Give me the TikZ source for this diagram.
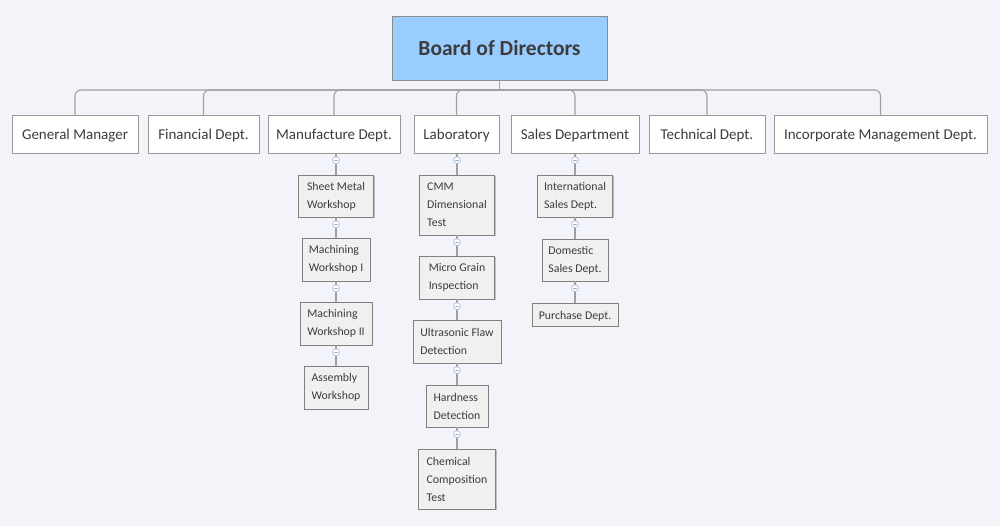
\documentclass[tikz,border=0pt]{standalone}
\usepackage{fontspec}
\setmainfont{Carlito}
\usetikzlibrary{shadows}
\definecolor{bgc}{RGB}{243,244,249}
\definecolor{txt}{RGB}{60,60,60}
\definecolor{linec}{RGB}{160,160,160}
\definecolor{boardc}{RGB}{153,204,255}
\definecolor{childc}{RGB}{240,240,240}
\definecolor{togc}{RGB}{150,175,220}
\tikzset{
  conn/.style={draw=linec, line width=1.1pt},
  board/.style={draw=black!45, fill=boardc, text=txt, font=\fontsize{21.5}{24}\selectfont\bfseries, minimum width=215pt, minimum height=64pt, inner sep=0pt, text height=17pt, text depth=2pt},
  dept/.style={draw=black!40, fill=white, text=txt, font=\fontsize{15}{18}\selectfont, minimum height=38pt, inner sep=0pt, text height=12.5pt, text depth=2.3pt,
    drop shadow={shadow xshift=1pt, shadow yshift=-1pt, fill=black!20, opacity=1}},
  sub/.style={draw=black!50, fill=childc, text=txt, font=\fontsize{11.8}{18}\selectfont, align=left, inner xsep=5pt, inner ysep=0pt,
    execute at begin node={\rule{0pt}{12.5pt}},
    drop shadow={shadow xshift=1pt, shadow yshift=-1pt, fill=black!25, opacity=1}},
  tog/.style={circle, draw=togc, fill=white, line width=0.5pt, minimum size=7pt, inner sep=0pt,
    path picture={\draw[togc, line width=0.6pt] ([xshift=-2pt]path picture bounding box.center) -- ([xshift=2pt]path picture bounding box.center);}}
}
\begin{document}
\begin{tikzpicture}[x=1pt, y=-1pt]
\fill[bgc] (0,0) rectangle (1000,526);
\useasboundingbox (0,0) rectangle (1000,526);

\node[board] (bd) at (499.5,48) {Board of Directors};
\coordinate (hub) at (499.5,90);

\node[dept, minimum width=126pt] (gm)  at (75,134)    {General Manager};
\node[dept, minimum width=111pt] (fin) at (203.5,134) {Financial Dept.};
\node[dept, minimum width=132pt] (man) at (334,134)   {Manufacture Dept.};
\node[dept, minimum width=85pt]  (lab) at (456.5,134) {Laboratory};
\node[dept, minimum width=128pt] (sal) at (575,134)   {Sales Department};
\node[dept, minimum width=116pt] (tec) at (707,134)   {Technical Dept.};
\node[dept, minimum width=213pt] (inc) at (880.5,134) {Incorporate Management Dept.};

\draw[conn] (bd.south) -- (hub);
\foreach \n in {gm,fin,man,lab,sal,tec,inc}
  \draw[conn, rounded corners=6pt] (\n.north) |- (hub);

% Manufacture
\node[sub, minimum width=75pt, minimum height=42pt] (sm) at (336,196)   {Sheet Metal\\Workshop};
\node[sub, minimum width=68pt, minimum height=43pt] (m1) at (336,259.5) {Machining\\Workshop I};
\node[sub, minimum width=72pt, minimum height=43pt] (m2) at (336,323.5) {Machining\\Workshop II};
\node[sub, minimum width=64pt, minimum height=43pt] (as) at (336,387.5) {Assembly\\Workshop};

% Laboratory
\node[sub, minimum width=75pt, minimum height=60pt] (cmm) at (457,205)   {CMM\\Dimensional\\Test};
\node[sub, minimum width=75pt, minimum height=43pt] (mg)  at (457,277.5) {Micro Grain\\Inspection};
\node[sub, minimum width=88pt, minimum height=43pt] (uf)  at (457,341.5) {Ultrasonic Flaw\\Detection};
\node[sub, minimum width=62pt, minimum height=42pt] (hd)  at (457,406)   {Hardness\\Detection};
\node[sub, minimum width=77pt, minimum height=60pt] (cc)  at (457,479)   {Chemical\\Composition\\Test};

% Sales
\node[sub, minimum width=75pt, minimum height=42pt] (is) at (575,196)   {International\\Sales Dept.};
\node[sub, minimum width=66pt, minimum height=42pt] (ds) at (575,260)   {Domestic\\Sales Dept.};
\node[sub, minimum width=86pt, minimum height=23pt] (pd) at (575,314.5) {Purchase Dept.};

\foreach \p/\c in {man/sm, sm/m1, m1/m2, m2/as, lab/cmm, cmm/mg, mg/uf, uf/hd, hd/cc, sal/is, is/ds, ds/pd}{
  \draw[conn] (\c.north |- \p.south) -- (\c.north);
  \node[tog] at ([yshift=-7pt]\c.north |- \p.south) {};
}
\end{tikzpicture}
\end{document}
